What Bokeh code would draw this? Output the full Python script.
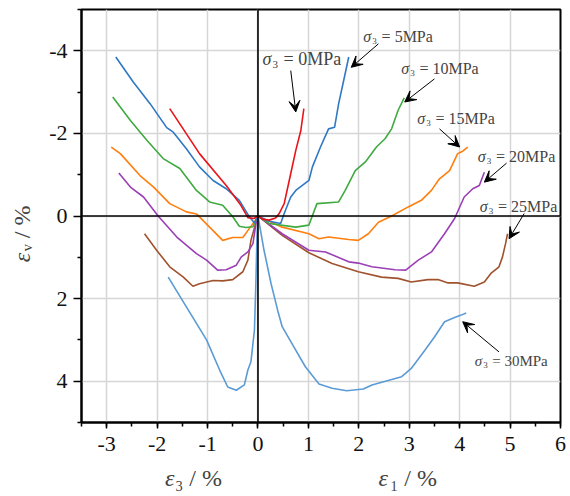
import math
from bokeh.plotting import figure
from bokeh.models import Range1d, FixedTicker, Span, Label, Arrow, VeeHead
from bokeh.embed import file_html
from bokeh.resources import INLINE

# ---------------- data ----------------
x_ticks = [-3, -2, -1, 0, 1, 2, 3, 4, 5, 6]
x_tick_labels = ["-3", "-2", "-1", "0", "1", "2", "3", "4", "5", "6"]
y_ticks = [-4, -2, 0, 2, 4]
y_tick_labels = ["-4", "-2", "0", "2", "4"]

# sigma3 = 0 MPa
s0_e3 = [0, -0.08, -0.2, -0.35, -0.63, -1.16, -1.75]
s0_ev3 = [0, 0.06, 0.04, -0.28, -0.74, -1.51, -2.6]
s0_e1 = [0, 0.1, 0.22, 0.35, 0.42, 0.52, 0.62, 0.75, 0.85, 0.91]
s0_ev1 = [0, 0.08, 0.1, 0.05, -0.06, -0.3, -0.86, -1.59, -2.07, -2.6]

# sigma3 = 5 MPa
s5_e3 = [0, -0.07, -0.17, -0.37, -0.63, -0.89, -1.16, -1.42, -1.68, -1.81, -2.14, -2.47, -2.82]
s5_ev3 = [0, 0.17, 0.02, -0.38, -0.66, -0.86, -1.19, -1.63, -2.03, -2.14, -2.72, -3.24, -3.85]
s5_e1 = [0, 0.2, 0.45, 0.52, 0.65, 0.75, 1.01, 1.08, 1.24, 1.4, 1.52, 1.6, 1.7, 1.8]
s5_ev1 = [0, 0.12, 0.18, -0.06, -0.46, -0.62, -0.86, -1.19, -1.67, -2.11, -2.15, -2.72, -3.28, -3.85]

# sigma3 = 10 MPa
s10_e3 = [0, -0.1, -0.24, -0.37, -0.5, -0.7, -0.96, -1.22, -1.55, -1.88, -2.2, -2.53, -2.88]
s10_ev3 = [0, 0.26, 0.28, 0.25, 0.02, -0.26, -0.34, -0.62, -1.15, -1.39, -1.83, -2.31, -2.88]
s10_e1 = [0, 0.22, 0.75, 1.01, 1.17, 1.6, 1.73, 1.93, 2.13, 2.35, 2.52, 2.65, 2.78, 2.9]
s10_ev1 = [0, 0.18, 0.27, 0.22, -0.3, -0.34, -0.62, -1.1, -1.31, -1.67, -1.87, -2.11, -2.56, -2.86]

# sigma3 = 15 MPa
s15_e3 = [0, -0.05, -0.17, -0.3, -0.5, -0.7, -0.96, -1.22, -1.42, -1.75, -2.07, -2.34, -2.73, -2.91]
s15_ev3 = [0, 0.1, 0.3, 0.52, 0.52, 0.59, 0.27, -0.05, -0.1, -0.3, -0.7, -0.98, -1.51, -1.67]
s15_e1 = [0, 0.48, 1.01, 1.21, 1.4, 1.8, 1.99, 2.19, 2.39, 2.65, 2.98, 3.24, 3.44, 3.6, 3.8, 3.96, 4.06, 4.16]
s15_ev1 = [0, 0.27, 0.43, 0.55, 0.51, 0.57, 0.59, 0.43, 0.15, 0.0, -0.22, -0.38, -0.62, -0.9, -1.1, -1.51, -1.57, -1.67]

# sigma3 = 20 MPa
s20_e3 = [0, -0.03, -0.1, -0.2, -0.33, -0.43, -0.63, -0.8, -1.02, -1.22, -1.61, -1.98, -2.27, -2.53, -2.76]
s20_ev3 = [0, 0.1, 0.67, 0.87, 0.99, 1.19, 1.3, 1.31, 1.07, 0.91, 0.51, 0.0, -0.46, -0.7, -1.04]
s20_e1 = [0, 0.48, 1.01, 1.34, 1.8, 1.99, 2.26, 2.72, 2.93, 3.18, 3.44, 3.7, 3.9, 4.09, 4.26, 4.39, 4.49]
s20_ev1 = [0, 0.43, 0.83, 0.87, 1.11, 1.14, 1.23, 1.3, 1.31, 1.07, 0.87, 0.43, 0.06, -0.46, -0.66, -0.74, -1.06]

# sigma3 = 25 MPa
s25_e3 = [0, -0.05, -0.14, -0.2, -0.3, -0.5, -0.7, -0.89, -1.16, -1.29, -1.48, -1.75, -2.01, -2.25]
s25_ev3 = [0, 0.2, 0.59, 1.07, 1.35, 1.54, 1.57, 1.56, 1.64, 1.7, 1.48, 1.23, 0.83, 0.43]
s25_e1 = [0, 0.48, 1.01, 1.47, 1.99, 2.45, 2.78, 3.04, 3.37, 3.57, 3.77, 3.96, 4.29, 4.49, 4.62, 4.78, 4.85, 4.91, 4.95]
s25_ev1 = [0, 0.47, 0.89, 1.15, 1.35, 1.48, 1.51, 1.6, 1.54, 1.54, 1.62, 1.62, 1.7, 1.6, 1.39, 1.23, 0.99, 0.67, 0.43]

# sigma3 = 30 MPa
s30_e3 = [0, -0.02, -0.04, -0.07, -0.14, -0.2, -0.27, -0.43, -0.6, -0.76, -1.02, -1.42, -1.78]
s30_ev3 = [0, 0.5, 1.55, 2.76, 3.53, 3.73, 4.09, 4.22, 4.14, 3.73, 3.0, 2.2, 1.48]
s30_e1 = [0, 0.12, 0.26, 0.39, 0.48, 0.68, 0.94, 1.21, 1.47, 1.76, 2.09, 2.26, 2.85, 3.04, 3.31, 3.5, 3.7, 3.9, 4.03, 4.13]
s30_ev1 = [0, 0.83, 1.64, 2.28, 2.68, 3.1, 3.65, 4.07, 4.17, 4.23, 4.19, 4.09, 3.89, 3.69, 3.25, 2.93, 2.56, 2.46, 2.4, 2.35]

series_labels = ["0", "5", "10", "15", "20", "25", "30"]

# ---------------- styling ----------------
FONT = "Liberation Serif"
colors = {
    "0": "#e8141a",
    "5": "#2f78c4",
    "10": "#3faa3f",
    "15": "#ff7f0e",
    "20": "#9b3fb5",
    "25": "#a0522d",
    "30": "#5b9bd5",
}

p = figure(width=566, height=492,
           x_range=Range1d(-3.5, 6), y_range=Range1d(5, -5),
           min_border_left=81, min_border_right=6,
           min_border_top=9, min_border_bottom=70,
           output_backend="svg", toolbar_location=None)
p.background_fill_color = "white"
p.border_fill_color = "white"
p.outline_line_color = "black"
p.outline_line_width = 2
p.outline_line_alpha = 1

xt = FixedTicker(ticks=x_ticks, minor_ticks=[v / 2 for v in range(-7, 13)])
yt = FixedTicker(ticks=y_ticks, minor_ticks=[-5, -3, -1, 1, 3, 5])
p.xaxis.ticker = xt
p.yaxis.ticker = yt
p.xaxis.major_label_overrides = dict(zip(x_ticks, x_tick_labels))
p.yaxis.major_label_overrides = dict(zip(y_ticks, y_tick_labels))
p.xgrid.ticker = xt
p.ygrid.ticker = yt
for g in (p.xgrid, p.ygrid):
    g.grid_line_color = "#d6d6d6"
    g.grid_line_width = 1.5

for ax in (p.xaxis, p.yaxis):
    ax.axis_line_width = 2
    ax.axis_line_color = "black"
    ax.major_tick_line_color = "black"
    ax.minor_tick_line_color = "black"
    ax.major_tick_line_width = 1.5
    ax.minor_tick_line_width = 1.5
    ax.major_tick_in = 0
    ax.minor_tick_in = 0
    ax.major_label_text_font = FONT
    ax.major_label_text_font_size = "22px"
    ax.major_label_text_color = "#111111"
    ax.axis_label = None
p.xaxis.major_tick_out = 6
p.xaxis.minor_tick_out = 4
p.xaxis.major_label_standoff = 8
p.yaxis.major_tick_out = 8
p.yaxis.minor_tick_out = 4
p.yaxis.major_label_standoff = 6

p.add_layout(Span(location=0, dimension="height", line_color="black", line_width=1.6))
p.add_layout(Span(location=0, dimension="width", line_color="black", line_width=1.6))

series = {
    "0": (s0_e3, s0_ev3, s0_e1, s0_ev1),
    "5": (s5_e3, s5_ev3, s5_e1, s5_ev1),
    "10": (s10_e3, s10_ev3, s10_e1, s10_ev1),
    "15": (s15_e3, s15_ev3, s15_e1, s15_ev1),
    "20": (s20_e3, s20_ev3, s20_e1, s20_ev1),
    "25": (s25_e3, s25_ev3, s25_e1, s25_ev1),
    "30": (s30_e3, s30_ev3, s30_e1, s30_ev1),
}
for key in reversed(series_labels):
    e3, ev3, e1, ev1 = series[key]
    p.line(e3, ev3, line_color=colors[key], line_width=1.6)
    p.line(e1, ev1, line_color=colors[key], line_width=1.6)

# ---------------- annotations ----------------
def sigma_label(x, y, num, size):
    sub = int(size * 0.62)
    p.add_layout(Label(x=x, y=y, text="σ", text_font=FONT, text_font_style="italic",
                       text_font_size=f"{size}px", text_baseline="middle", text_align="left"))
    p.add_layout(Label(x=x, y=y, x_offset=size * 0.56, y_offset=-size * 0.3, text="3",
                       text_font=FONT, text_font_size=f"{sub}px",
                       text_baseline="middle", text_align="left"))
    p.add_layout(Label(x=x, y=y, x_offset=size * 0.56 + sub * 0.5 + size * 0.3,
                       text=f"= {num}MPa", text_font=FONT, text_font_size=f"{size}px",
                       text_baseline="middle", text_align="left"))

# (label left x, label y, arrow start x, y, arrow end x, y, font size)
annotations = {
    "0": (0.09, -3.79, 0.65, -3.52, 0.75, -2.52, 18),
    "5": (2.09, -4.35, 2.39, -4.17, 1.85, -3.6, 16),
    "10": (2.84, -3.57, 3.5, -3.32, 2.91, -2.76, 16),
    "15": (3.16, -2.36, 3.6, -2.11, 4.0, -1.67, 16),
    "20": (4.36, -1.44, 4.93, -1.28, 4.49, -0.82, 16),
    "25": (4.4, -0.23, 5.28, -0.06, 4.98, 0.55, 16),
    "30": (4.3, 3.51, 4.78, 3.29, 4.06, 2.56, 15),
}
for key, (lx, ly, ax0, ay0, ax1, ay1, fs) in annotations.items():
    sigma_label(lx, ly, key, fs)
    p.add_layout(Arrow(x_start=ax0, y_start=ay0, x_end=ax1, y_end=ay1,
                       line_color="black", line_width=1,
                       end=VeeHead(size=11, fill_color="black", line_color="black")))

# ---------------- axis titles ----------------
# Labels put into side panels are drawn outside the frame; they are spread
# over the panels so that the space they reserve stays within the borders.
TS = 24
NB = "\u00a0"
xt_mid = -55           # px below the frame bottom (text middle)
e3_x, e1_x = -1.845, 2.39

# italic epsilons of the two x titles (left panel, cost = glyph width)
for ex in (e3_x, e1_x):
    p.add_layout(Label(x=ex, y=5, y_offset=xt_mid, text="ε", text_font=FONT,
                       text_font_style="italic", text_font_size=f"{TS}px",
                       text_baseline="middle", text_align="left"), "left")
# upright remainders of both x titles in one label (below panel)
p.add_layout(Label(x=e3_x, y=5, x_offset=10, y_offset=xt_mid,
                   text="₃" + NB + "/" + NB + "%" + NB * 28 + "₁" + NB + "/" + NB + "%",
                   text_font=FONT, text_font_size=f"{TS}px",
                   text_baseline="middle", text_align="left"), "below")

# y title, rotated
yx_off = -60
p.add_layout(Label(x=-3.5, y=1.12, x_offset=yx_off, text="ε", text_font=FONT,
                   text_font_style="italic", text_font_size=f"{TS}px",
                   text_baseline="middle", text_align="left", angle=math.pi / 2), "above")
p.add_layout(Label(x=-3.5, y=1.12, x_offset=yx_off, y_offset=11,
                   text="ᵥ" + NB + "/" + NB + "%", text_font=FONT, text_font_size=f"{TS}px",
                   text_baseline="middle", text_align="left", angle=math.pi / 2), "left")

open("out.html", "w").write(file_html(p, INLINE))
